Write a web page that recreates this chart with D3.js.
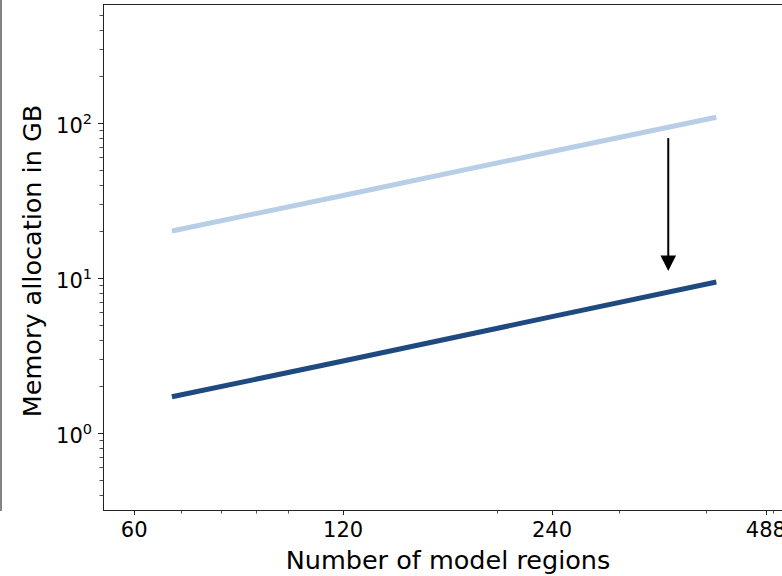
<!DOCTYPE html>
<html>
<head>
<meta charset="utf-8">
<script src="https://cdn.jsdelivr.net/npm/d3@7"></script>
<style>
  html, body { margin: 0; padding: 0; background: #fff; overflow: hidden; }
  svg { display: block; font-family: "DejaVu Sans", sans-serif; }
</style>
</head>
<body>
<svg id="chart" width="782" height="576"></svg>
<script>
// ---- data ----
const nRegions   = [68, 120, 240, 414];
const memBefore  = [20.1, 34.1, 65.6, 109];
const memAfter   = [1.71, 2.91, 5.63, 9.42];
const xTickValues = [60, 120, 240, 488];
const xTickLabels = ["60", "120", "240", "488"];
const xMinorTicks = [70, 80, 90, 100, 200, 300, 400, 500];
const yTickValues = [1, 10, 100];
const yTickExponents = ["0", "1", "2"];
const yMinorTicks = [0.4,0.5,0.6,0.7,0.8,0.9,2,3,4,5,6,7,8,9,20,30,40,50,60,70,80,90,200,300,400,500];
const arrowX = 353, arrowFrom = 80, arrowTo = 11.1;
const xLabel = "Number of model regions";
const yLabel = "Memory allocation in GB";

// ---- layout ----
const svg = d3.select("#chart");
const L = 103, R = 793, T = 4, B = 510;
const x = d3.scaleLog().domain([54.1, 534]).range([L, R]);
const y = d3.scaleLog().domain([0.318, 587]).range([B, T]);

// stray spine of neighbouring panel
svg.append("line").attr("x1", 1).attr("x2", 1).attr("y1", 0).attr("y2", 511)
  .attr("stroke", "#333").attr("stroke-width", 1.2);

// lines
const line = d3.line().x((d, i) => x(nRegions[i])).y(d => y(d));
svg.append("path").datum(memBefore).attr("d", line)
  .attr("fill", "none").attr("stroke", "#b8cee6").attr("stroke-width", 5);
svg.append("path").datum(memAfter).attr("d", line)
  .attr("fill", "none").attr("stroke", "#1f4a80").attr("stroke-width", 5);

// arrow
const ax = x(arrowX), ay0 = y(arrowFrom), ay1 = y(arrowTo);
svg.append("line").attr("x1", ax).attr("x2", ax).attr("y1", ay0).attr("y2", ay1 - 14)
  .attr("stroke", "#000").attr("stroke-width", 2);
svg.append("path")
  .attr("d", `M${ax - 7.8},${ay1 - 15.5} L${ax + 7.8},${ay1 - 15.5} L${ax},${ay1} Z`)
  .attr("fill", "#000");

// spines
const spine = svg.append("g").attr("stroke", "#222").attr("stroke-width", 1).attr("fill", "none");
spine.append("line").attr("x1", L + 0.5).attr("x2", L + 0.5).attr("y1", T).attr("y2", B + 0.5);
spine.append("line").attr("x1", L).attr("x2", R).attr("y1", T + 0.5).attr("y2", T + 0.5);
spine.append("line").attr("x1", L).attr("x2", R).attr("y1", B + 0.5).attr("y2", B + 0.5);

// x ticks
const gx = svg.append("g");
xMinorTicks.forEach(v => {
  gx.append("line").attr("x1", Math.round(x(v)) + 0.5).attr("x2", Math.round(x(v)) + 0.5)
    .attr("y1", B).attr("y2", B + 3.5).attr("stroke", "#222").attr("stroke-width", 0.8);
});
xTickValues.forEach((v, i) => {
  gx.append("line").attr("x1", Math.round(x(v)) + 0.5).attr("x2", Math.round(x(v)) + 0.5)
    .attr("y1", B).attr("y2", B + 5).attr("stroke", "#222").attr("stroke-width", 1);
  gx.append("text").attr("x", x(v)).attr("y", 537).attr("text-anchor", "middle")
    .attr("font-size", 21).attr("fill", "#000").text(xTickLabels[i]);
});

// y ticks
const gy = svg.append("g");
yMinorTicks.forEach(v => {
  gy.append("line").attr("x1", L).attr("x2", L - 3.5)
    .attr("y1", Math.round(y(v)) + 0.5).attr("y2", Math.round(y(v)) + 0.5)
    .attr("stroke", "#222").attr("stroke-width", 0.8);
});
yTickValues.forEach((v, i) => {
  gy.append("line").attr("x1", L).attr("x2", L - 5)
    .attr("y1", Math.round(y(v)) + 0.5).attr("y2", Math.round(y(v)) + 0.5)
    .attr("stroke", "#222").attr("stroke-width", 1);
  const t = gy.append("text").attr("x", 92).attr("y", y(v) + 10).attr("text-anchor", "end")
    .attr("font-size", 21).attr("fill", "#000");
  t.append("tspan").text("10");
  t.append("tspan").attr("font-size", 14.5).attr("dy", -9).text(yTickExponents[i]);
});

// axis labels
svg.append("text").attr("x", (L + R) / 2).attr("y", 569).attr("text-anchor", "middle")
  .attr("font-size", 25.5).attr("fill", "#000").text(xLabel);
svg.append("text").attr("transform", `translate(41,261) rotate(-90)`)
  .attr("text-anchor", "middle").attr("font-size", 25.5).attr("fill", "#000").text(yLabel);
</script>
</body>
</html>
